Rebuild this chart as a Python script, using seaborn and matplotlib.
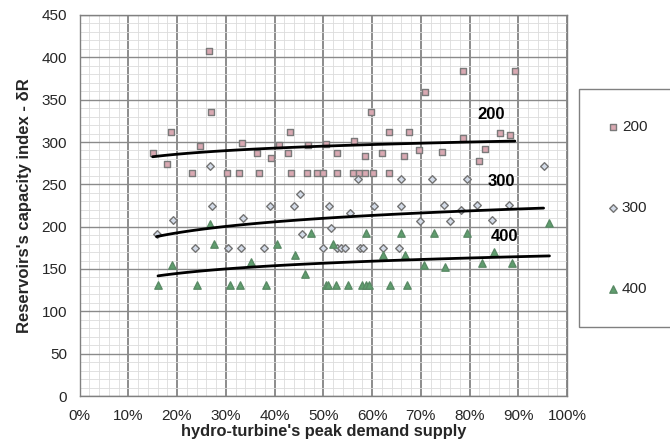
import numpy as np
import pandas as pd
import matplotlib.pyplot as plt
import seaborn as sns
from matplotlib.ticker import MultipleLocator, PercentFormatter

sns.set_style('white')
plt.rcParams['font.family'] = ['Liberation Sans', 'DejaVu Sans']

# ---- data (x = share of peak demand, y = capacity index) ----
x200 = [0.150, 0.180, 0.187, 0.230, 0.248, 0.265, 0.269, 0.303, 0.328, 0.334,
        0.364, 0.369, 0.393, 0.410, 0.427, 0.431, 0.433, 0.467, 0.469, 0.487,
        0.500, 0.505, 0.529, 0.529, 0.562, 0.563, 0.573, 0.586, 0.586, 0.598,
        0.602, 0.621, 0.634, 0.634, 0.666, 0.675, 0.696, 0.709, 0.744, 0.787,
        0.787, 0.819, 0.832, 0.862, 0.883, 0.893]
y200 = [287, 274, 312, 263, 295, 408, 336, 263, 263, 299,
        287, 263, 281, 297, 287, 312, 263, 263, 297, 263,
        263, 298, 287, 263, 263, 301, 263, 284, 263, 336,
        263, 287, 312, 263, 284, 312, 291, 359, 288, 384,
        305, 278, 292, 311, 308, 384]

x300 = [0.158, 0.191, 0.236, 0.267, 0.272, 0.304, 0.331, 0.336, 0.379, 0.391,
        0.440, 0.453, 0.456, 0.500, 0.512, 0.516, 0.529, 0.537, 0.545, 0.555,
        0.572, 0.576, 0.581, 0.605, 0.623, 0.656, 0.660, 0.660, 0.699, 0.723,
        0.748, 0.760, 0.782, 0.794, 0.815, 0.847, 0.880, 0.952]
y300 = [191, 208, 175, 272, 224, 175, 175, 210, 175, 224,
        224, 239, 191, 175, 224, 198, 175, 175, 175, 216,
        256, 175, 175, 224, 175, 175, 256, 224, 207, 256,
        225, 207, 220, 256, 225, 208, 226, 272]

x400 = [0.161, 0.190, 0.241, 0.267, 0.276, 0.308, 0.329, 0.352, 0.383, 0.406,
        0.443, 0.463, 0.475, 0.506, 0.509, 0.519, 0.526, 0.551, 0.579, 0.588,
        0.588, 0.593, 0.622, 0.636, 0.660, 0.667, 0.671, 0.706, 0.727, 0.749,
        0.795, 0.826, 0.850, 0.888, 0.964]
y400 = [131, 155, 131, 203, 179, 131, 131, 158, 131, 179,
        167, 144, 192, 131, 131, 180, 131, 131, 131, 192,
        131, 131, 167, 131, 192, 167, 131, 155, 192, 152,
        192, 157, 170, 157, 204]

series_names = ['200', '300', '400']

df = pd.concat([
    pd.DataFrame({'supply': x200, 'index': y200, 'series': '200'}),
    pd.DataFrame({'supply': x300, 'index': y300, 'series': '300'}),
    pd.DataFrame({'supply': x400, 'index': y400, 'series': '400'}),
], ignore_index=True)

# marker look per series
styles = {
    '200': dict(marker='s', s=18, color='#d9a9b2', edgecolor='#7a7a7a'),
    '300': dict(marker='D', s=15, color='#d3dbe8', edgecolor='#747474'),
    '400': dict(marker='^', s=28, color='#5f9e6e', edgecolor='#5a8a66'),
}
# where the trend-line names sit
line_labels = {'200': (0.845, 333), '300': (0.865, 253), '400': (0.871, 188)}

fig = plt.figure(figsize=(6.7, 4.48), dpi=100)
ax = fig.add_axes([79.5 / 670, 1 - 396 / 448, 487.5 / 670, 381 / 448])

for name in series_names:
    sub = df[df['series'] == name]
    sns.scatterplot(data=sub, x='supply', y='index', linewidth=1.0,
                    label=name, ax=ax, zorder=3, **styles[name])
    # logarithmic trend line, like the spreadsheet one
    sns.regplot(data=sub, x='supply', y='index', logx=True, scatter=False,
                ci=None, color='black', line_kws={'lw': 2.0, 'zorder': 4}, ax=ax)
    tx, ty = line_labels[name]
    ax.text(tx, ty, name, ha='center', va='center', fontsize=12,
            fontweight='bold', color='black', zorder=5)

ax.set_xlim(0, 1.0)
ax.set_ylim(0, 450)
ax.xaxis.set_major_locator(MultipleLocator(0.1))
ax.xaxis.set_minor_locator(MultipleLocator(0.02))
ax.yaxis.set_major_locator(MultipleLocator(50))
ax.yaxis.set_minor_locator(MultipleLocator(10))
ax.xaxis.set_major_formatter(PercentFormatter(1.0, decimals=0))

ax.set_axisbelow(True)
ax.grid(which='minor', color='#dcdcdc', lw=0.6)
ax.grid(which='major', axis='x', color='#6e6e6e', lw=1.1)
ax.grid(which='major', axis='y', color='#8a8a8a', lw=1.0)

for sp in ax.spines.values():
    sp.set_color('#808080')
    sp.set_linewidth(1.0)
ax.tick_params(which='major', direction='out', length=5, width=1,
               color='#808080', labelsize=11, pad=4)
ax.tick_params(which='minor', length=0)

ax.set_xlabel("hydro-turbine's peak demand supply", fontsize=11.8,
              fontweight='bold', labelpad=1)
ax.set_ylabel("Reservoirs's capacity index - δR", fontsize=12,
              fontweight='bold', labelpad=7)

handles, labels = ax.get_legend_handles_labels()
leg = ax.legend(handles, labels, loc='upper left',
                bbox_to_anchor=(579 / 670, 0.0, 0.3, 1 - 89 / 448),
                bbox_transform=fig.transFigure, mode='expand',
                borderaxespad=0, borderpad=2.0, labelspacing=4.4,
                handlelength=0.4, handletextpad=0.4, fontsize=11,
                frameon=True, fancybox=False, framealpha=1,
                edgecolor='#808080')
leg.get_frame().set_linewidth(1.0)

fig.savefig('out.png', dpi=100, facecolor='white')
